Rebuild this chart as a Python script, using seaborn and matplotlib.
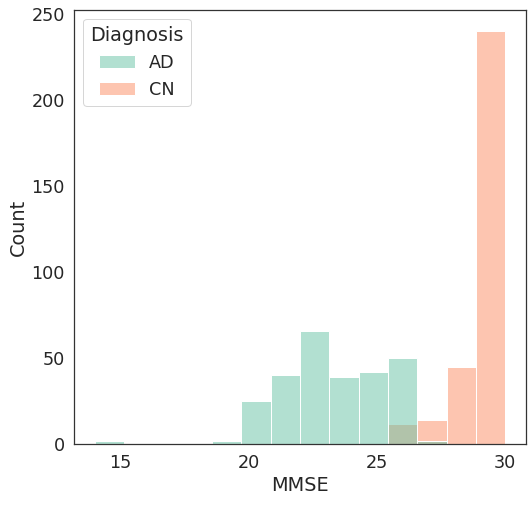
import matplotlib
matplotlib.use("Agg")
import matplotlib.pyplot as plt
import seaborn as sns
import pandas as pd

bin_centres = [14.57, 19.14, 20.29, 21.43, 22.57, 23.71, 24.86, 26.0, 27.14, 26.0, 27.14, 28.29, 29.43]
counts      = [2,     2,     25,    40,    66,    39,    42,    50,   2,     12,   14,    45,    240]
diagnosis   = ["AD"] * 9 + ["CN"] * 4

df = pd.DataFrame({"MMSE": bin_centres, "Count": counts, "Diagnosis": diagnosis})

sns.set_theme(style="white", font_scale=1.6)
fig, ax = plt.subplots(figsize=(531/72, 505/72), dpi=72)
sns.histplot(data=df, x="MMSE", hue="Diagnosis", weights="Count", bins=14,
             binrange=(14, 30), palette="Set2", hue_order=["AD", "CN"], ax=ax)
ax.set_ylabel("Count")
ax.set_xticks([15, 20, 25, 30])
for s in ax.spines.values():
    s.set_color("#333333")
sns.move_legend(ax, "upper left")
fig.subplots_adjust(left=0.14, right=0.99, top=0.98, bottom=0.12)
fig.savefig("out.png", dpi=72)
